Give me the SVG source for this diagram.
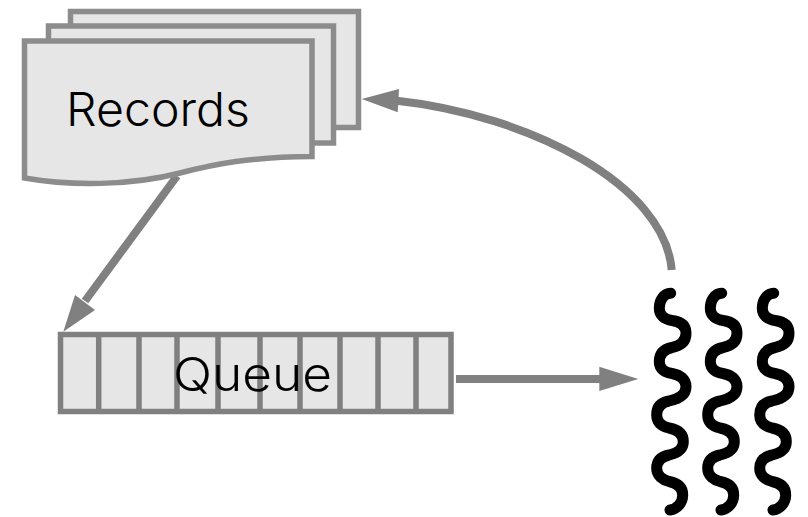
<svg xmlns="http://www.w3.org/2000/svg" width="808" height="517" viewBox="0 0 808 517">
<style>
.doc{fill:#e6e6e6;stroke:#8c8c8c;stroke-width:5.5;stroke-linejoin:miter}
.cell{fill:#e6e6e6;stroke:#808080;stroke-width:5.5}
.div{stroke:#808080;stroke-width:5.5;fill:none}
.conn{stroke:#808080;stroke-width:8;fill:none}
.head{fill:#808080}
.label{font-family:"Inter","Open Sans",sans-serif;font-size:47px;font-weight:300;fill:#000}
.wave{fill:none;stroke:#000;stroke-width:11;stroke-linecap:round}
</style>
<defs>
<path id="w" d="M670.7 293.3C664 293.500 659.3 300 659.3 308.3C659.3 316 665 319.500 672 320.500C680 321.500 686 325 686 333.3C686 342 680 346 672 347.500C665 349 659.3 353 659.3 361.7C659.3 369 665 372.500 672 373.500C680 375 686 379 686 386.7C686 395 678 399 669 401C661 402.500 656.7 407 656.7 415C656.7 423 663 426.500 669 428C677 429.500 683.3 433 683.3 441.7C683.3 450 677 453 669 455C662 456.500 656.7 460 656.7 468.3C656.7 476 663 480 669 481.500C677 483 682.7 487 682.7 495C682.7 503 677 509 670 510"/>
</defs>
<g id="connectors">
<path class="conn" d="M177 176L85 301"/>
<path class="head" d="M63.300 331.700L75 295L95 310Z"/>
<path class="conn" d="M456 379H605"/>
<path class="head" d="M638.300 379L599.300 366.700V391Z"/>
<path class="conn" d="M671.700 270C665 185 530 115 395 100.500"/>
<path class="head" d="M361.700 99L399 89L397.700 112.300Z"/>
</g>
<g id="records">
<rect class="doc" x="70.500" y="11.500" width="288" height="116"/>
<rect class="doc" x="48.500" y="26" width="285" height="117"/>
<path class="doc" d="M24.500 41H312V156.500C250 157 215 164 180 173C130 186 70 186 24.500 178Z"/>
<text class="label" x="66" y="126" textLength="184" lengthAdjust="spacingAndGlyphs">Records</text>
</g>
<g id="queue">
<rect class="cell" x="60.500" y="334.500" width="390.500" height="77"/>
<path class="div" d="M98.700 334.500V411.500M139 334.500V411.500M177 334.500V411.500M218 334.500V411.500M260 334.500V411.500M300 334.500V411.500M340 334.500V411.500M378 334.500V411.500M416 334.500V411.500"/>
<text class="label" x="173" y="391" textLength="159" lengthAdjust="spacingAndGlyphs">Queue</text>
</g>
<g id="threads">
<use href="#w" class="wave"/>
<use href="#w" class="wave" x="51"/>
<use href="#w" class="wave" x="103"/>
</g>
</svg>
